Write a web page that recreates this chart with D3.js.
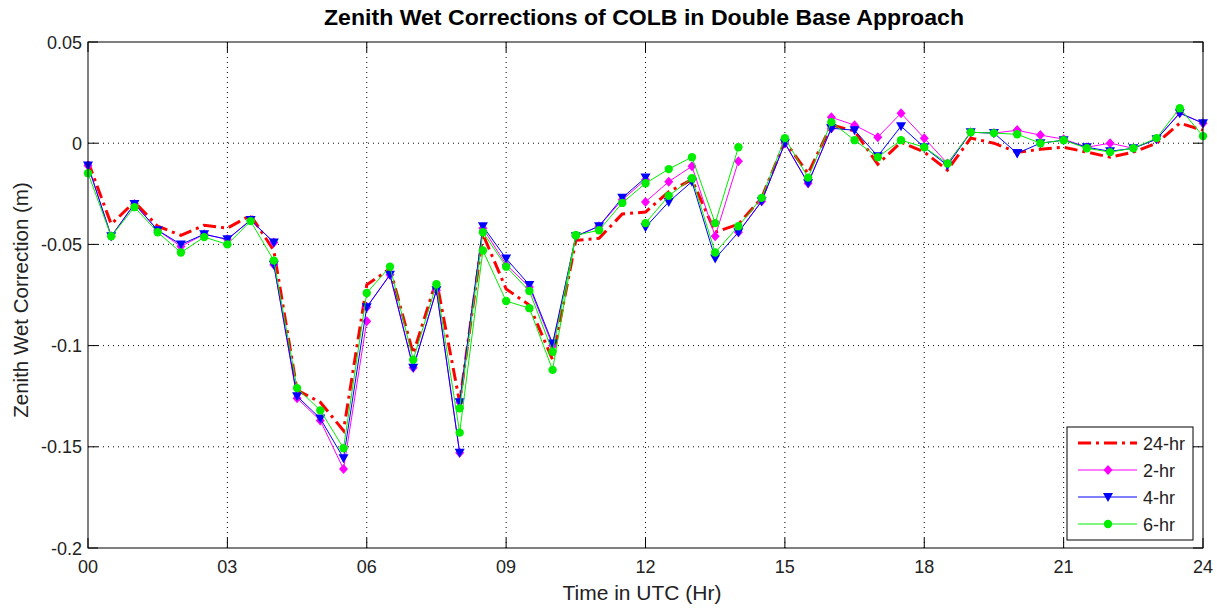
<!DOCTYPE html>
<html><head><meta charset="utf-8">
<script src="https://cdn.jsdelivr.net/npm/d3@7"></script>
<style>body{margin:0;background:#fff;} text{font-family:"Liberation Sans",Arial,sans-serif;}</style>
</head><body>
<svg id="c" width="1217" height="609"></svg>
<script>
// ---- data ----
const xTicks = [0, 3, 6, 9, 12, 15, 18, 21, 24];
const xTickLabels = ["00", "03", "06", "09", "12", "15", "18", "21", "24"];
const yTicks = [-0.2, -0.15, -0.1, -0.05, 0, 0.05];
const yTickLabels = ["-0.2", "-0.15", "-0.1", "-0.05", "0", "0.05"];
const step = 0.5; // hours between samples

// 24-hr solution (continuous, start hour 0)
const r24 = [-0.009, -0.040, -0.029, -0.041, -0.0455, -0.0405, -0.042, -0.0356, -0.053,
  -0.122, -0.128, -0.142, -0.070, -0.062, -0.104, -0.0677, -0.128,
  -0.045, -0.072, -0.080, -0.107, -0.048, -0.047, -0.035, -0.034,
  -0.024, -0.018, -0.044, -0.040, -0.027, 0.001, -0.015, 0.009,
  0.006, -0.0104, 0.0005, -0.0044, -0.0133, 0.0025, 0.0, -0.0045,
  -0.003, -0.002, -0.0044, -0.0069, -0.0044, 0.0, 0.0099, 0.0064];

// 2-hr solution segments: start hour + values
const m2Starts = [0, 4, 6, 8, 12, 14, 16, 20];
const m2Values = [
  [-0.011, -0.046, -0.030, -0.043, -0.051, -0.045, -0.0475, -0.038, -0.049],
  [-0.060, -0.126, -0.137, -0.161, -0.088],
  [-0.081, -0.065, -0.111, -0.0726, -0.153],
  [-0.128, -0.042, -0.060, -0.071, -0.100, -0.046, -0.041, -0.028, -0.018],
  [-0.029, -0.019, -0.0114, -0.046, -0.0089],
  [-0.044, -0.0287, 0.0, -0.0198, 0.0074],
  [0.0128, 0.0089, 0.003, 0.0148, 0.0025, -0.010, 0.0054, 0.005, 0.0064],
  [0.0064, 0.004, 0.002, -0.002, 0.0, -0.0025, 0.002, 0.015, 0.0099]
];

// 4-hr solution segments
const b4Starts = [0, 4, 8, 12, 16, 20];
const b4Values = [
  [-0.011, -0.046, -0.030, -0.043, -0.050, -0.045, -0.0475, -0.038, -0.049],
  [-0.060, -0.125, -0.136, -0.1556, -0.081, -0.065, -0.111, -0.0726, -0.153],
  [-0.128, -0.041, -0.057, -0.070, -0.099, -0.046, -0.041, -0.027, -0.017],
  [-0.0415, -0.029, -0.019, -0.057, -0.044, -0.0287, 0.0, -0.0198, 0.0074],
  [0.0074, 0.0064, -0.0064, 0.0084, -0.002, -0.011, 0.0054, 0.005, -0.005],
  [-0.005, 0.0, 0.0015, -0.002, -0.004, -0.0025, 0.002, 0.0148, 0.0099]
];

// 6-hr solution segments
const g6Starts = [0, 8, 12];
const g6Values = [
  [-0.0148, -0.046, -0.0316, -0.044, -0.054, -0.0464, -0.050, -0.0385, -0.058,
   -0.121, -0.132, -0.1507, -0.074, -0.061, -0.107, -0.0697, -0.143,
   -0.053, -0.078, -0.0815, -0.112, -0.0455, -0.043, -0.0295, -0.0198,
   -0.0128, -0.0069, -0.0395, -0.002],
  [-0.131, -0.044, -0.061, -0.073, -0.103, -0.0455],
  [-0.0395, -0.026, -0.0173, -0.054, -0.041, -0.027, 0.0025, -0.017, 0.0104,
   0.0015, -0.0069, 0.0015, -0.002, -0.010, 0.0054, 0.005, 0.0044,
   0.0, 0.0015, -0.0025, -0.0044, -0.0025, 0.0025, 0.0173, 0.0035]
];

const seriesNames = ["24-hr", "2-hr", "4-hr", "6-hr"];

// ---- drawing ----
const L = 88, R = 1203, T = 42, B = 548;
const svg = d3.select("#c");
const x = d3.scaleLinear().domain([0, 24]).range([L, R]);
const y = d3.scaleLinear().domain([-0.2, 0.05]).range([B, T]);

function segs(starts, values) {
  return starts.map((s, k) => values[k].map((v, i) => [s + i * step, v]));
}

// grid
const g = svg.append("g");
xTicks.slice(1, -1).forEach(t => {
  g.append("line").attr("x1", x(t)).attr("x2", x(t)).attr("y1", T).attr("y2", B)
    .attr("stroke", "#000").attr("stroke-width", 1).attr("stroke-dasharray", "1,4");
});
yTicks.slice(1, -1).forEach(t => {
  g.append("line").attr("x1", L).attr("x2", R).attr("y1", y(t)).attr("y2", y(t))
    .attr("stroke", "#000").attr("stroke-width", 1).attr("stroke-dasharray", "1,4");
});

const line = d3.line().x(d => x(d[0])).y(d => y(d[1]));
const plot = svg.append("g");

// 24-hr
plot.append("path").datum(r24.map((v, i) => [i * step, v])).attr("d", line)
  .attr("fill", "none").attr("stroke", "#ff0000").attr("stroke-width", 3)
  .attr("stroke-dasharray", "13,5,3,5");

function drawSeries(data, color, marker) {
  data.forEach(seg => {
    plot.append("path").datum(seg).attr("d", line).attr("fill", "none")
      .attr("stroke", color).attr("stroke-width", 1);
  });
  data.forEach(seg => {
    seg.forEach(d => marker(plot, x(d[0]), y(d[1]), color));
  });
}
function diamond(p, cx, cy, c) {
  p.append("path").attr("d", `M${cx},${cy-5}L${cx+4.5},${cy}L${cx},${cy+5}L${cx-4.5},${cy}Z`).attr("fill", c);
}
function tri(p, cx, cy, c) {
  p.append("path").attr("d", `M${cx-5},${cy-4}L${cx+5},${cy-4}L${cx},${cy+5}Z`).attr("fill", c);
}
function circ(p, cx, cy, c) {
  p.append("circle").attr("cx", cx).attr("cy", cy).attr("r", 4.2).attr("fill", c);
}
drawSeries(segs(m2Starts, m2Values), "#ff00ff", diamond);
drawSeries(segs(b4Starts, b4Values), "#0000ff", tri);
drawSeries(segs(g6Starts, g6Values), "#00ee00", circ);

// axes box + ticks
const ax = svg.append("g");
ax.append("rect").attr("x", L).attr("y", T).attr("width", R - L).attr("height", B - T)
  .attr("fill", "none").attr("stroke", "#000").attr("stroke-width", 1);
const tl = 10;
xTicks.forEach((t, i) => {
  ax.append("line").attr("x1", x(t)).attr("x2", x(t)).attr("y1", B).attr("y2", B - tl).attr("stroke", "#000");
  ax.append("line").attr("x1", x(t)).attr("x2", x(t)).attr("y1", T).attr("y2", T + tl).attr("stroke", "#000");
  ax.append("text").attr("x", x(t)).attr("y", B + 25).attr("text-anchor", "middle")
    .attr("font-size", 18).attr("fill", "#222").text(xTickLabels[i]);
});
yTicks.forEach((t, i) => {
  ax.append("line").attr("x1", L).attr("x2", L + tl).attr("y1", y(t)).attr("y2", y(t)).attr("stroke", "#000");
  ax.append("line").attr("x1", R).attr("x2", R - tl).attr("y1", y(t)).attr("y2", y(t)).attr("stroke", "#000");
  ax.append("text").attr("x", L - 6).attr("y", y(t) + 6.5).attr("text-anchor", "end")
    .attr("font-size", 18).attr("fill", "#222").text(yTickLabels[i]);
});

// titles
svg.append("text").attr("x", 644).attr("y", 25).attr("text-anchor", "middle")
  .attr("font-size", 22).attr("font-weight", "bold")
  .attr("textLength", 640).attr("lengthAdjust", "spacingAndGlyphs")
  .text("Zenith Wet Corrections of COLB in Double Base Approach");
svg.append("text").attr("x", 642).attr("y", 600).attr("text-anchor", "middle")
  .attr("font-size", 21).attr("fill", "#222").text("Time in UTC (Hr)");
svg.append("text").attr("transform", `translate(28,300) rotate(-90)`).attr("text-anchor", "middle")
  .attr("font-size", 20.5).attr("fill", "#222").text("Zenith Wet Correction (m)");

// legend
const lg = svg.append("g");
lg.append("rect").attr("x", 1067).attr("y", 427).attr("width", 126).attr("height", 113)
  .attr("fill", "#fff").attr("stroke", "#000");
const ly = [443, 470, 497, 524];
const lcol = ["#ff0000", "#ff00ff", "#0000ff", "#00ee00"];
const lmark = [null, diamond, tri, circ];
seriesNames.forEach((n, i) => {
  const l = lg.append("line").attr("x1", 1078).attr("x2", 1137).attr("y1", ly[i]).attr("y2", ly[i])
    .attr("stroke", lcol[i]).attr("stroke-width", i === 0 ? 3 : 1);
  if (i === 0) l.attr("stroke-dasharray", "13,5,3,5");
  else lmark[i](lg, 1108, ly[i], lcol[i]);
  lg.append("text").attr("x", 1143).attr("y", ly[i] + 6.5).attr("font-size", 18).attr("fill", "#222").text(n);
});
</script>
</body></html>
